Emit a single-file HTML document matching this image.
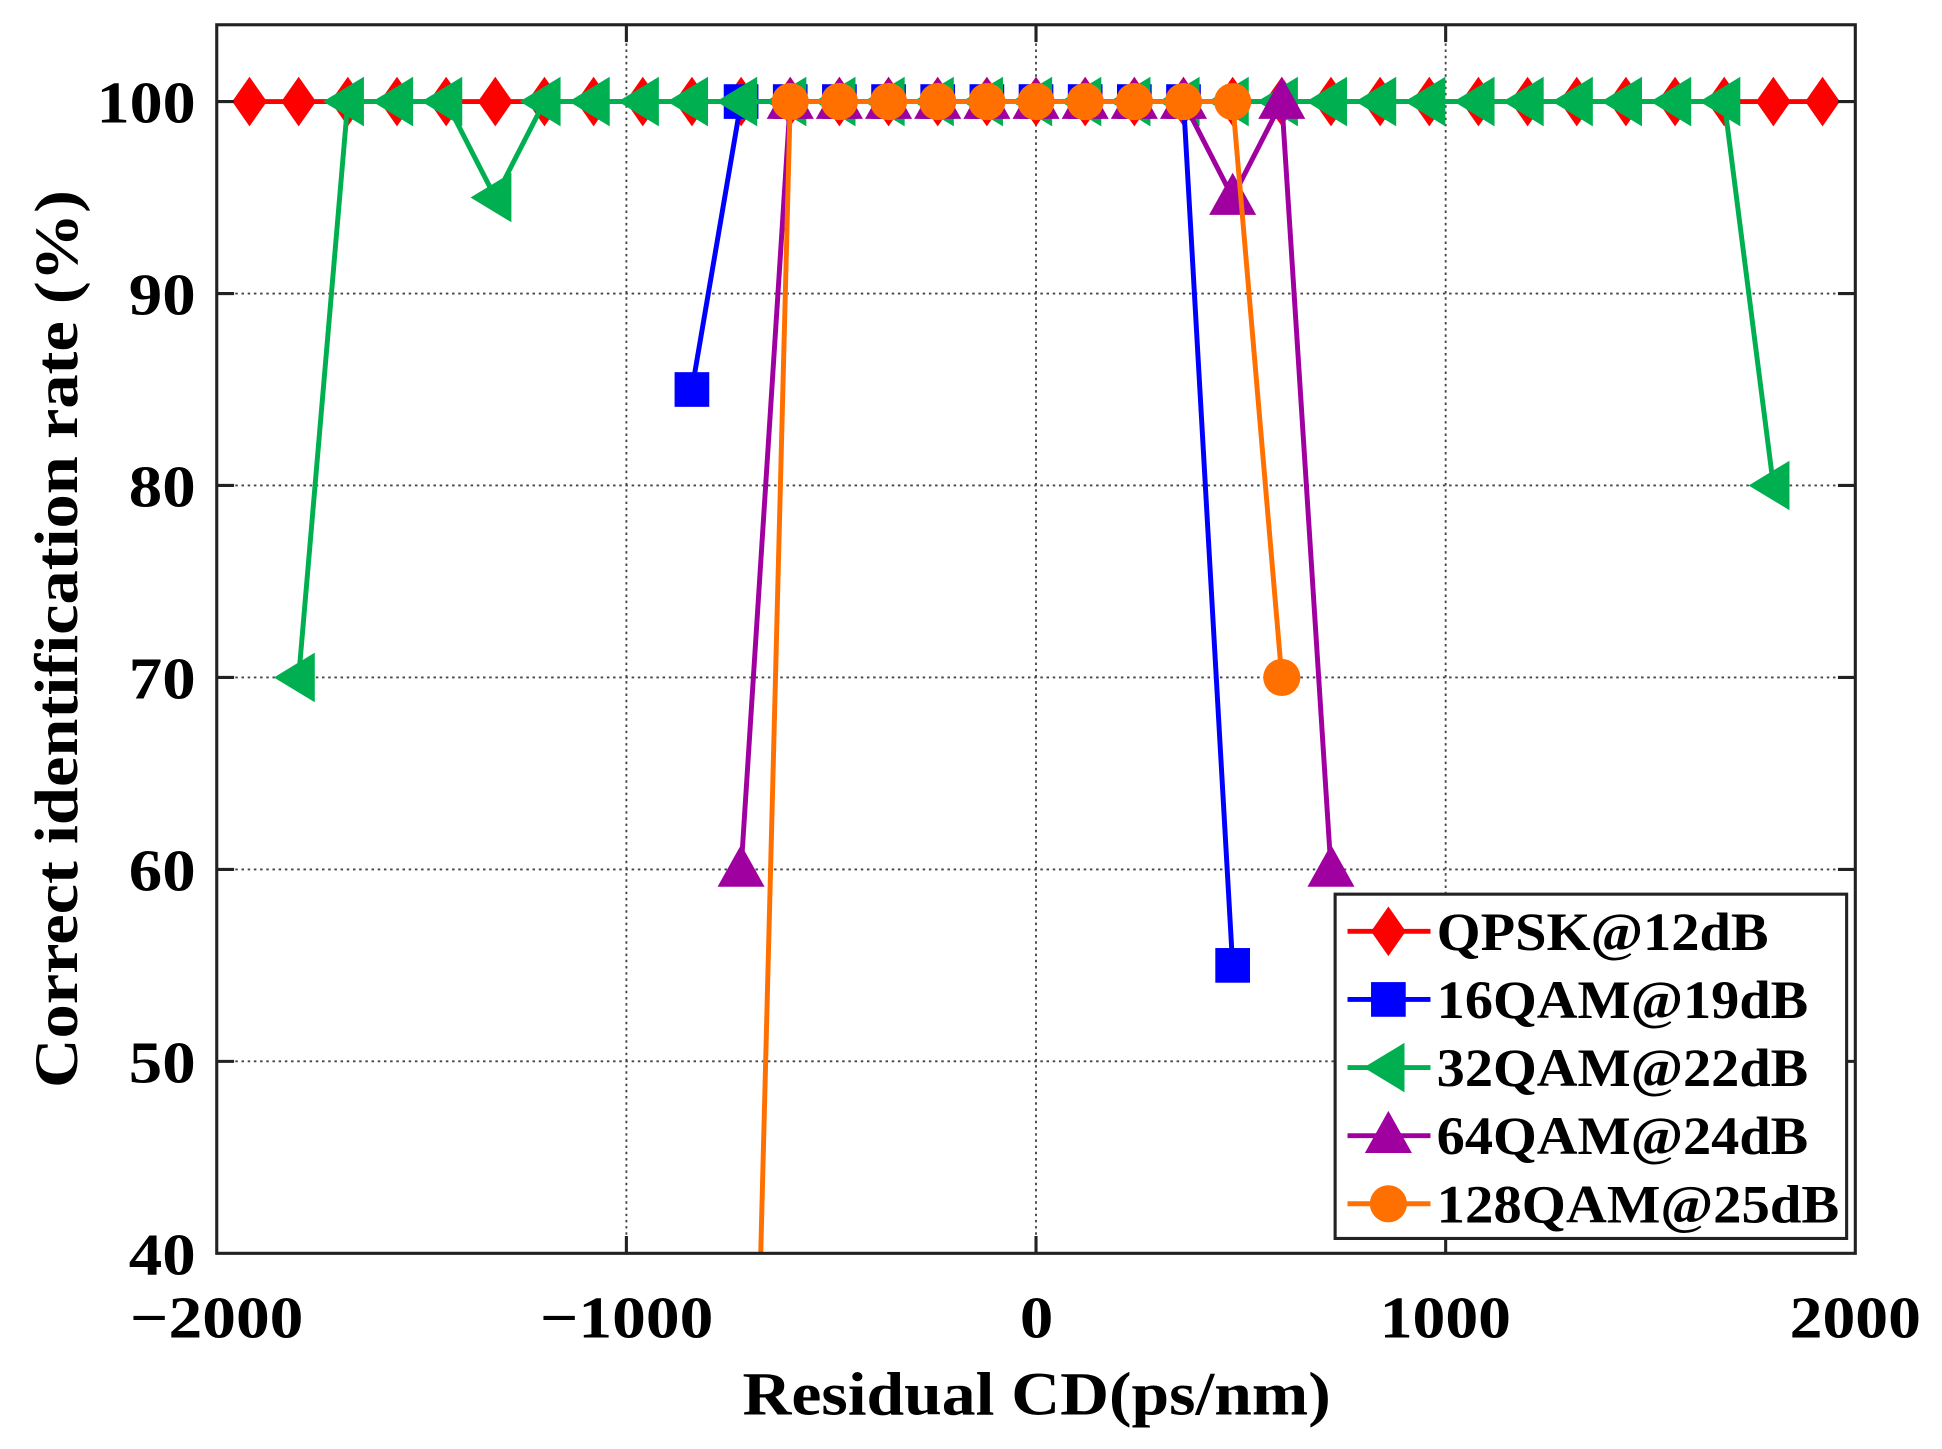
<!DOCTYPE html>
<html><head><meta charset="utf-8"><style>
html,body{margin:0;padding:0;background:#fff;width:1942px;height:1449px;overflow:hidden}
svg{display:block;position:absolute;left:0;top:0}
text{font-family:"Liberation Serif",serif;font-weight:bold;fill:#000}
</style></head><body>
<svg id="s" width="1942" height="1449" viewBox="0 0 1568 1170" preserveAspectRatio="none" xmlns="http://www.w3.org/2000/svg">
<defs><clipPath id="c"><rect x="175" y="20" width="1323" height="992"/></clipPath></defs>
<g id="grid" stroke="#444" stroke-width="1.5" stroke-dasharray="2,3"></g>
<g id="series" clip-path="url(#c)"></g>
<rect x="175" y="20" width="1323" height="992" fill="none" stroke="#222" stroke-width="2.5"/>
<g id="ticks" stroke="#222" stroke-width="2.5"></g>
<g font-size="48" text-anchor="end" lengthAdjust="spacingAndGlyphs">
<text x="158" y="99" textLength="80" lengthAdjust="spacingAndGlyphs">100</text>
<text x="158" y="254" textLength="54" lengthAdjust="spacingAndGlyphs">90</text>
<text x="158" y="409" textLength="54" lengthAdjust="spacingAndGlyphs">80</text>
<text x="158" y="564" textLength="54" lengthAdjust="spacingAndGlyphs">70</text>
<text x="158" y="719" textLength="54" lengthAdjust="spacingAndGlyphs">60</text>
<text x="158" y="874" textLength="54" lengthAdjust="spacingAndGlyphs">50</text>
<text x="158" y="1029" textLength="54" lengthAdjust="spacingAndGlyphs">40</text>
</g>
<g font-size="48" text-anchor="middle">
<text x="175" y="1080" textLength="140" lengthAdjust="spacingAndGlyphs">−2000</text>
<text x="506" y="1080" textLength="140" lengthAdjust="spacingAndGlyphs">−1000</text>
<text x="837" y="1080" textLength="27" lengthAdjust="spacingAndGlyphs">0</text>
<text x="1167" y="1080" textLength="106" lengthAdjust="spacingAndGlyphs">1000</text>
<text x="1498" y="1080" textLength="106" lengthAdjust="spacingAndGlyphs">2000</text>
</g>
<text x="837" y="1142" font-size="50" text-anchor="middle" textLength="475" lengthAdjust="spacingAndGlyphs">Residual CD(ps/nm)</text>
<text transform="translate(62,516) rotate(-90)" font-size="50" text-anchor="middle" textLength="725" lengthAdjust="spacingAndGlyphs">Correct identification rate (%)</text>
<rect x="1078" y="722" width="413" height="278" fill="#fff" stroke="#222" stroke-width="2.5"/>
<g id="leg"></g>
<g font-size="44">
<text x="1160" y="767" textLength="268" lengthAdjust="spacingAndGlyphs">QPSK@12dB</text>
<text x="1160" y="822" textLength="300" lengthAdjust="spacingAndGlyphs">16QAM@19dB</text>
<text x="1160" y="877" textLength="300" lengthAdjust="spacingAndGlyphs">32QAM@22dB</text>
<text x="1160" y="932" textLength="300" lengthAdjust="spacingAndGlyphs">64QAM@24dB</text>
<text x="1160" y="987" textLength="325" lengthAdjust="spacingAndGlyphs">128QAM@25dB</text>
</g>
</svg>
<script>
var NS="http://www.w3.org/2000/svg";
function X(v){return 175+(v+2000)*1323/4000}
function Y(v){return 82+(100-v)*15.5}
function el(p,t,a){var e=document.createElementNS(NS,t);for(var k in a)e.setAttribute(k,a[k]);p.appendChild(e);return e}
var g=document.getElementById('grid');
[-1000,0,1000].forEach(function(v){el(g,'line',{x1:X(v),x2:X(v),y1:20,y2:1012})});
[50,60,70,80,90,100].forEach(function(v){el(g,'line',{x1:175,x2:1498,y1:Y(v),y2:Y(v)})});
var t=document.getElementById('ticks');
[-1000,0,1000].forEach(function(v){el(t,'line',{x1:X(v),x2:X(v),y1:1012,y2:998});el(t,'line',{x1:X(v),x2:X(v),y1:20,y2:34})});
[50,60,70,80,90,100].forEach(function(v){el(t,'line',{x1:175,x2:189,y1:Y(v),y2:Y(v)});el(t,'line',{x1:1498,x2:1484,y1:Y(v),y2:Y(v)})});
function mk(p,type,x,y,c){
 if(type=='d')el(p,'polygon',{points:[x,y-20,x+14,y,x,y+20,x-14,y].join(' '),fill:c});
 if(type=='s')el(p,'rect',{x:x-14,y:y-14,width:28,height:28,fill:c});
 if(type=='l')el(p,'polygon',{points:[x-20,y,x+13,y-20,x+13,y+20].join(' '),fill:c});
 if(type=='u')el(p,'polygon',{points:[x,y-20,x+19,y+14,x-19,y+14].join(' '),fill:c});
 if(type=='o')el(p,'circle',{cx:x,cy:y,r:15,fill:c});
}
function range(a,b){var r=[];for(var v=a;v<=b;v+=120)r.push(v);return r}
var S=[
 {c:'#ff0000',m:'d',d:range(-1920,1920).map(function(x){return [x,100]})},
 {c:'#0000ff',m:'s',d:[[-840,85]].concat(range(-720,360).map(function(x){return [x,100]})).concat([[480,55]])},
 {c:'#00b050',m:'l',d:range(-1800,1800).map(function(x){return [x,x==-1800?70:x==-1320?95:x==1800?80:100]})},
 {c:'#a000a0',m:'u',d:[[-720,60]].concat(range(-600,360).map(function(x){return [x,100]})).concat([[480,95],[600,100],[720,60]])},
 {c:'#ff7000',m:'o',d:[[-720,0]].concat(range(-600,480).map(function(x){return [x,100]})).concat([[600,70]])}
];
var sg=document.getElementById('series');
S.forEach(function(s){
 el(sg,'polyline',{points:s.d.map(function(p){return X(p[0])+','+Y(p[1])}).join(' '),fill:'none',stroke:s.c,'stroke-width':4});
 s.d.forEach(function(p){mk(sg,s.m,X(p[0]),Y(p[1]),s.c)});
});
var lg=document.getElementById('leg');
S.forEach(function(s,i){var y=752+55*i;
 el(lg,'line',{x1:1088,x2:1155,y1:y,y2:y,stroke:s.c,'stroke-width':4});
 mk(lg,s.m,1121,y,s.c);});
</script>
</body></html>
